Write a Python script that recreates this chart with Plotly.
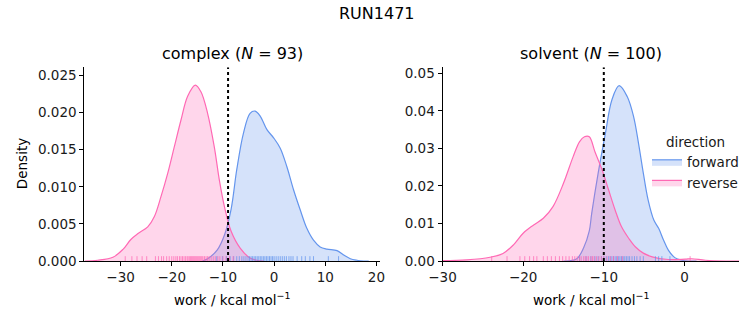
import plotly.graph_objects as go

# ---------------- data ----------------
suptitle = "RUN1471"
panel_titles = ["complex (<i>N</i> = 93)", "solvent (<i>N</i> = 100)"]
directions = ["forward", "reverse"]

# complex panel: KDE curves
complex_fwd_x = [-14.0, -13.0, -11.1, -9.7, -8.4, -7.3, -6.0, -4.7, -3.7, -2.7, -1.4, -0.1, 1.2, 2.5,
                 3.8, 5.1, 6.4, 7.7, 9.0, 10.3, 12.3, 13.6, 14.9, 16.2, 17.5, 18.5]
complex_fwd_y = [0.0, 0.0003, 0.0015, 0.0035, 0.0070, 0.0123, 0.0172, 0.0199, 0.0202, 0.0195, 0.0177,
                 0.0166, 0.0152, 0.0127, 0.0096, 0.0069, 0.0044, 0.0028, 0.0019, 0.0016, 0.0014,
                 0.0008, 0.0003, 0.0001, 0.0, 0.0]
complex_rev_x = [-37.0, -34.5, -31.5, -29.5, -28.0, -26.6, -24.7, -23.4, -22.1, -20.8, -19.5, -18.2,
                 -16.9, -15.4, -14.3, -13.0, -11.7, -10.7, -9.7, -8.4, -6.6, -4.7, -3.4, -2.0]
complex_rev_y = [0.0, 0.0001, 0.0005, 0.0016, 0.0029, 0.0037, 0.0046, 0.0060, 0.0087, 0.0118, 0.0154,
                 0.0190, 0.0222, 0.0237, 0.0228, 0.0199, 0.0154, 0.0109, 0.0073, 0.0040, 0.0017,
                 0.0004, 0.0001, 0.0]

# solvent panel: KDE curves
solvent_fwd_x = [-15.0, -13.4, -12.5, -11.8, -11.5, -10.7, -9.8, -9.0, -8.1, -7.1, -6.3, -5.7, -5.1,
                 -4.5, -3.8, -3.2, -2.6, -2.0, -1.2, -0.3, 0.5, 1.5]
solvent_fwd_y = [0.0, 0.0005, 0.0035, 0.0080, 0.0127, 0.0234, 0.0340, 0.0429, 0.0467, 0.0438, 0.0384,
                 0.0314, 0.0234, 0.0162, 0.0109, 0.0087, 0.0056, 0.0029, 0.0009, 0.0002, 0.0, 0.0]
solvent_rev_x = [-30.0, -27.0, -24.1, -22.5, -21.2, -20.0, -18.7, -17.5, -16.3, -15.0, -13.8, -13.0,
                 -12.4, -11.8, -11.1, -10.2, -9.4, -8.6, -7.8, -6.9, -6.1, -5.1, -4.0, -2.0, 0.1,
                 0.9, 2.6, 5.1, 6.8]
solvent_rev_y = [0.0001, 0.0003, 0.0010, 0.0020, 0.0043, 0.0074, 0.0096, 0.0114, 0.0145, 0.0207,
                 0.0278, 0.0318, 0.0331, 0.0331, 0.0291, 0.0242, 0.0189, 0.0136, 0.0091, 0.0060,
                 0.0038, 0.0021, 0.0011, 0.0004, 0.0005, 0.0006, 0.0002, 0.0, 0.0]

# rug samples
complex_fwd_rug = [-11.2, -10.1, -9.3, -8.6, -7.9, -7.3, -6.8, -6.3, -5.9, -5.5, -5.1, -4.8, -4.5,
                   -4.2, -3.9, -3.6, -3.3, -3.0, -2.7, -2.4, -2.1, -1.8, -1.5, -1.2, -0.9, -0.6,
                   -0.3, 0.0, 0.4, 0.8, 1.2, 1.6, 2.0, 2.4, 2.9, 3.3, 3.7, 4.5, 5.4, 6.1, 7.0, 7.7,
                   10.6, 12.6]
complex_rev_rug = [-29.1, -27.8, -26.8, -25.8, -24.9, -23.2, -22.6, -22.0, -21.6, -21.0, -20.5, -20.0,
                   -19.6, -19.2, -18.9, -18.5, -18.2, -17.9, -17.6, -17.3, -17.0, -16.8, -16.5,
                   -16.3, -16.1, -15.9, -15.7, -15.5, -15.3, -15.1, -14.9, -14.7, -14.5, -14.3,
                   -14.1, -13.9, -13.6, -13.3, -13.0, -12.7, -12.3, -11.9, -11.5, -11.0, -10.6,
                   -10.0, -9.4, -8.7, -8.0]
solvent_fwd_rug = [-13.0, -12.2, -11.6, -11.1, -10.7, -10.3, -10.0, -9.7, -9.4, -9.2, -9.0, -8.8,
                   -8.6, -8.4, -8.2, -8.0, -7.8, -7.6, -7.4, -7.2, -7.0, -6.8, -6.5, -6.2, -5.9,
                   -5.5, -5.1, -3.6, -3.2, -2.8, -1.8]
solvent_rev_rug = [-23.9, -22.0, -20.4, -19.8, -19.2, -18.7, -18.3, -17.5, -17.0, -16.5, -16.0,
                   -15.5, -15.1, -14.7, -14.3, -13.9, -13.6, -13.3, -13.0, -12.8, -12.5, -12.3,
                   -12.1, -11.9, -11.6, -11.4, -11.2, -10.9, -10.6, -10.3, -10.0, -9.6, -9.2,
                   -8.8, -8.3, -7.7, 0.7]

# vertical dotted reference lines (work estimate)
vline_values = [-9.0, -10.0]

# axis settings
x_ranges = [[-37.1, 20.7], [-30.0, 6.8]]
y_ranges = [[0.0, 0.0261], [0.0, 0.0516]]
x_ticks = [[-30, -20, -10, 0, 10, 20], [-30, -20, -10, 0]]
y_ticks = [[0.0, 0.005, 0.010, 0.015, 0.020, 0.025], [0.0, 0.01, 0.02, 0.03, 0.04, 0.05]]
y_formats = [".3f", ".2f"]
x_label = "work / kcal mol<sup>−1</sup>"
y_label = "Density"

# ---------------- style ----------------
FONT = "DejaVu Sans"
TICK_SIZE = 13.5
LABEL_SIZE = 13.5
TITLE_SIZE = 16
line_colors = {"forward": "#6495ED", "reverse": "#FF69B4"}
fill_colors = {"forward": "rgba(100,149,237,0.27)", "reverse": "rgba(255,105,180,0.27)"}
rug_colors = {"forward": "rgba(100,149,237,0.75)", "reverse": "rgba(255,105,180,0.75)"}

W, H = 753, 325
x_domains = [[84.3 / W, 380.0 / W], [442.5 / W, 739.3 / W]]
y_domain = [1 - 261.0 / H, 1 - 67.3 / H]

curves = [
    {"forward": (complex_fwd_x, complex_fwd_y), "reverse": (complex_rev_x, complex_rev_y)},
    {"forward": (solvent_fwd_x, solvent_fwd_y), "reverse": (solvent_rev_x, solvent_rev_y)},
]
rugs = [
    {"forward": complex_fwd_rug, "reverse": complex_rev_rug},
    {"forward": solvent_fwd_rug, "reverse": solvent_rev_rug},
]

fig = go.Figure()

for i in range(2):
    xa = "x" if i == 0 else "x2"
    ya = "y" if i == 0 else "y2"
    for d in directions:
        cx, cy = curves[i][d]
        fig.add_trace(go.Scatter(
            x=cx, y=cy, mode="lines", xaxis=xa, yaxis=ya,
            line=dict(color=line_colors[d], width=1.2, shape="spline", smoothing=1.0),
            fill="tozeroy", fillcolor=fill_colors[d],
            name=d, legendgroup=d, showlegend=(i == 1),
        ))
    # rug ticks
    rug_h = (y_ranges[i][1] - y_ranges[i][0]) * 0.025
    for d in directions:
        rx, ry = [], []
        for v in rugs[i][d]:
            rx += [v, v, None]
            ry += [0, rug_h, None]
        fig.add_trace(go.Scatter(
            x=rx, y=ry, mode="lines", xaxis=xa, yaxis=ya,
            line=dict(color=rug_colors[d], width=1),
            showlegend=False, hoverinfo="skip",
        ))
    # dotted vertical line
    fig.add_trace(go.Scatter(
        x=[vline_values[i], vline_values[i]], y=[y_ranges[i][0], y_ranges[i][1]],
        mode="lines", xaxis=xa, yaxis=ya,
        line=dict(color="black", width=2, dash="dot"), showlegend=False,
    ))

axis_common = dict(
    showline=True, linecolor="black", linewidth=1, ticks="outside", ticklen=4,
    tickwidth=1, tickcolor="black", showgrid=False, zeroline=False, automargin=False,
    tickfont=dict(family=FONT, size=TICK_SIZE, color="#1a1a1a"),
)
for i in range(2):
    sfx = "" if i == 0 else "2"
    fig.layout["xaxis" + sfx] = dict(
        axis_common, domain=x_domains[i], range=x_ranges[i], tickvals=x_ticks[i],
        anchor="y" + sfx,
    )
    fig.layout["yaxis" + sfx] = dict(
        axis_common, domain=y_domain, range=y_ranges[i], tickvals=y_ticks[i],
        tickformat=y_formats[i], anchor="x" + sfx,
    )

annotations = [
    dict(text=suptitle, x=376.5 / W, y=1 - 13.0 / H, xref="paper", yref="paper",
         showarrow=False, font=dict(family=FONT, size=TITLE_SIZE, color="black"),
         xanchor="center", yanchor="middle"),
]
for i in range(2):
    cx = (x_domains[i][0] + x_domains[i][1]) / 2
    annotations.append(dict(text=panel_titles[i], x=cx, y=1 - 54.0 / H, xref="paper", yref="paper",
                            showarrow=False, font=dict(family=FONT, size=TITLE_SIZE, color="black"),
                            xanchor="center", yanchor="middle"))
    annotations.append(dict(text=x_label, x=cx, y=1 - 299.0 / H, xref="paper", yref="paper",
                            showarrow=False, font=dict(family=FONT, size=LABEL_SIZE, color="black"),
                            xanchor="center", yanchor="middle"))
annotations.append(dict(text=y_label, x=22.0 / W, y=(y_domain[0] + y_domain[1]) / 2,
                        xref="paper", yref="paper", showarrow=False, textangle=-90,
                        font=dict(family=FONT, size=LABEL_SIZE, color="black"),
                        xanchor="center", yanchor="middle"))

fig.update_layout(
    width=W, height=H,
    margin=dict(l=0, r=0, t=0, b=0, autoexpand=False),
    paper_bgcolor="white", plot_bgcolor="white",
    font=dict(family=FONT, size=LABEL_SIZE, color="black"),
    annotations=annotations,
    legend=dict(
        x=647.0 / W, y=1 - 129.0 / H, xanchor="left", yanchor="top",
        title=dict(text="direction", side="top center", font=dict(family=FONT, size=LABEL_SIZE)),
        font=dict(family=FONT, size=LABEL_SIZE, color="#1a1a1a"),
        bgcolor="rgba(255,255,255,0)", tracegroupgap=0, itemwidth=30,
    ),
)

fig.write_html("out.html")
